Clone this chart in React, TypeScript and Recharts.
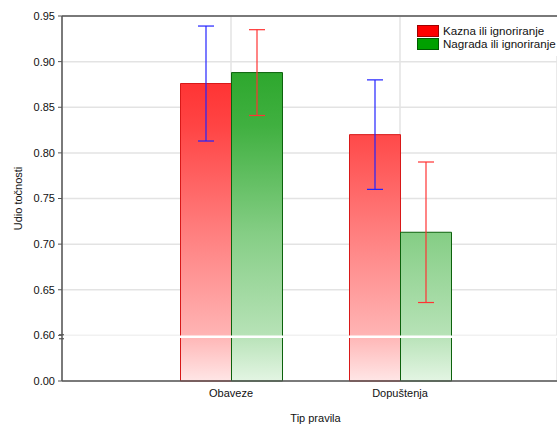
import React from 'react';
import {
  ComposedChart,
  Bar,
  XAxis,
  YAxis,
  CartesianGrid,
  ErrorBar,
  ReferenceLine,
} from 'recharts';

const categories = ['Obaveze', 'Dopuštenja'];
const kazna = [0.876, 0.82];
const kaznaLow = [0.813, 0.76];
const kaznaHigh = [0.939, 0.88];
const nagrada = [0.888, 0.713];
const nagradaLow = [0.841, 0.636];
const nagradaHigh = [0.935, 0.79];
const yTickLabels = [0, 0.6, 0.65, 0.7, 0.75, 0.8, 0.85, 0.9, 0.95];
const seriesNames = ['Kazna ili ignoriranje', 'Nagrada ili ignoriranje'];

// broken axis: values from 0.60 upward are shifted down by 0.55
const SHIFT = 0.55;
const toAxis = (v: number) => (v === 0 ? 0 : v - SHIFT);
const fromAxis = (v: number) => (v < 0.001 ? 0 : v + SHIFT);
const BREAK_VALUE = 0.5985;

const data = categories.map((c, i) => ({
  name: c,
  kazna: toAxis(kazna[i]),
  kaznaErr: [kazna[i] - kaznaLow[i], kaznaHigh[i] - kazna[i]],
  nagrada: toAxis(nagrada[i]),
  nagradaErr: [nagrada[i] - nagradaLow[i], nagradaHigh[i] - nagrada[i]],
}));

const FONT = '"Liberation Sans", Arial, sans-serif';

const BreakShape = (props: any) => {
  const { x1, x2, y1 } = props;
  const xl = Math.min(x1, x2);
  const xr = Math.max(x1, x2);
  return (
    <g>
      <line x1={xl - 6} x2={xr} y1={y1} y2={y1} stroke="#ffffff" strokeWidth={2.5} />
      <line x1={xl - 3} x2={xl + 2} y1={y1 - 2} y2={y1 - 2} stroke="#555" strokeWidth={1.2} />
      <line x1={xl - 3} x2={xl + 2} y1={y1 + 2} y2={y1 + 2} stroke="#555" strokeWidth={1.2} />
    </g>
  );
};

const LegendBox = () => (
  <div
    style={{
      position: 'absolute',
      left: 401,
      top: 17,
      width: 180,
      background: '#fff',
      padding: '7px 0 6px 16px',
      fontFamily: FONT,
      fontSize: 11.6,
      color: '#111',
      lineHeight: '13px',
      whiteSpace: 'nowrap',
      boxSizing: 'border-box',
    }}
  >
    {seriesNames.map((n, i) => (
      <div key={n} style={{ display: 'flex', alignItems: 'center', height: 13 }}>
        <span
          style={{
            display: 'inline-block',
            width: 20,
            height: 10,
            background: i === 0 ? '#ff0000' : '#00a000',
            border: `1px solid ${i === 0 ? '#a00000' : '#005a00'}`,
            marginRight: 4,
          }}
        />
        <span>{n}</span>
      </div>
    ))}
  </div>
);

export default function App() {
  return (
    <div style={{ position: 'absolute', left: 0, top: 0, width: 557, height: 426, overflow: 'hidden', background: '#fff' }}>
      <ComposedChart
        width={557}
        height={426}
        data={data}
        margin={{ top: 16, right: 0, bottom: 0, left: 0 }}
        barGap={0}
        style={{ fontFamily: FONT }}
      >
        <defs>
          <linearGradient id="redGrad" gradientUnits="userSpaceOnUse" x1="0" y1="16" x2="0" y2="381">
            <stop offset="0" stopColor="#ff1a1a" />
            <stop offset="0.3" stopColor="#ff4444" />
            <stop offset="0.6" stopColor="#ff8080" />
            <stop offset="0.87" stopColor="#ffb3b3" />
            <stop offset="1" stopColor="#ffe6e6" />
          </linearGradient>
          <linearGradient id="greenGrad" gradientUnits="userSpaceOnUse" x1="0" y1="16" x2="0" y2="381">
            <stop offset="0" stopColor="#1a9e1a" />
            <stop offset="0.3" stopColor="#40b040" />
            <stop offset="0.6" stopColor="#86ce86" />
            <stop offset="0.87" stopColor="#b6e2b6" />
            <stop offset="1" stopColor="#e3f5e3" />
          </linearGradient>
        </defs>
        <CartesianGrid stroke="#e3e3e3" strokeWidth={1.5} />
        <XAxis
          dataKey="name"
          height={45}
          padding={{ left: 84.5, right: 72.5 }}
          tickLine={false}
          axisLine={{ stroke: '#555', strokeWidth: 1.5 }}
          tick={{ fontSize: 11, fill: '#111', fontFamily: FONT }}
          label={{
            value: 'Tip pravila',
            position: 'insideBottom',
            offset: 4,
            dx: 6,
            style: { fontSize: 11, fill: '#111', fontFamily: FONT },
          }}
        />
        <YAxis
          width={62}
          type="number"
          domain={[0, 0.4]}
          ticks={yTickLabels.map(toAxis)}
          tickFormatter={(v: number) => fromAxis(v).toFixed(2)}
          tickSize={4}
          tickMargin={3}
          tickLine={{ stroke: '#555' }}
          axisLine={{ stroke: '#555', strokeWidth: 1.5 }}
          tick={{ fontSize: 11, fill: '#111', fontFamily: FONT }}
          label={{
            value: 'Udio točnosti',
            angle: -90,
            position: 'insideLeft',
            offset: 18,
            textAnchor: 'middle',
            style: { fontSize: 11, fill: '#111', fontFamily: FONT, textAnchor: 'middle' },
          }}
        />
        <Bar
          dataKey="kazna"
          name={seriesNames[0]}
          barSize={51}
          fill="url(#redGrad)"
          stroke="#d81818"
          strokeWidth={1}
          isAnimationActive={false}
        >
          <ErrorBar dataKey="kaznaErr" width={8} stroke="#2222ff" strokeWidth={1.2} isAnimationActive={false} />
        </Bar>
        <Bar
          dataKey="nagrada"
          name={seriesNames[1]}
          barSize={51}
          fill="url(#greenGrad)"
          stroke="#0c620c"
          strokeWidth={1}
          isAnimationActive={false}
        >
          <ErrorBar dataKey="nagradaErr" width={8} stroke="#ff3333" strokeWidth={1.2} isAnimationActive={false} />
        </Bar>
        <ReferenceLine y={toAxis(BREAK_VALUE)} shape={BreakShape} />
        <ReferenceLine y={0.4} stroke="#555" strokeWidth={1.5} />
      </ComposedChart>
      <LegendBox />
    </div>
  );
}
